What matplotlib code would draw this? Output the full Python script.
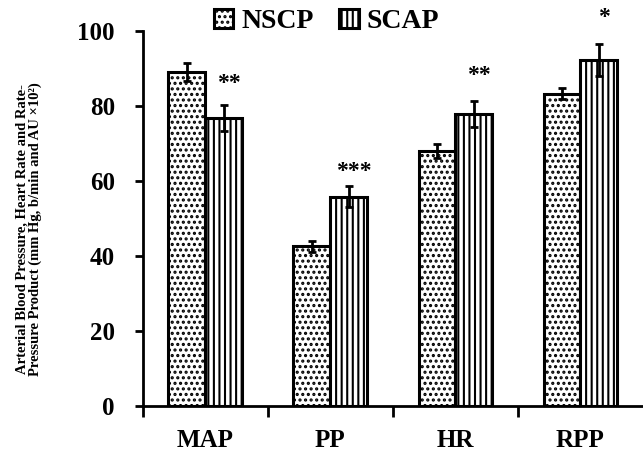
import matplotlib
matplotlib.use("Agg")
import matplotlib.pyplot as plt
import numpy as np

# data
categories = ['MAP', 'PP', 'HR', 'RPP']
nscp_mean = [89.0, 42.5, 68.0, 83.2]
nscp_err = [2.4, 1.5, 1.8, 1.5]
scap_mean = [76.8, 55.8, 77.8, 92.2]
scap_err = [3.5, 2.9, 3.5, 4.3]
stars = ['**', '***', '**', '*']
star_y = [86.0, 62.5, 88.0, 103.5]

plt.rcParams['font.family'] = ['Liberation Serif', 'DejaVu Serif']
plt.rcParams['font.weight'] = 'bold'
plt.rcParams['hatch.linewidth'] = 1.5

fig = plt.figure(figsize=(6.43, 4.53), dpi=100)
ax = fig.add_axes([0.222, 0.104, 0.778, 0.828])

x = np.arange(len(categories))
w = 0.295
ax.bar(x - w / 2, nscp_mean, w, yerr=nscp_err, color='white', edgecolor='black',
       linewidth=2.2, hatch='...', label='NSCP',
       error_kw=dict(ecolor='black', elinewidth=2, capsize=3, capthick=2))
ax.bar(x + w / 2, scap_mean, w, yerr=scap_err, color='white', edgecolor='black',
       linewidth=2.2, hatch='|||', label='SCAP',
       error_kw=dict(ecolor='black', elinewidth=2, capsize=3, capthick=2))

for i, s in enumerate(stars):
    ax.text(x[i] + w / 2 + 0.04, star_y[i], s, ha='center', va='center',
            fontsize=17, fontweight='bold', clip_on=False)

ax.set_xlim(-0.5, 3.5)
ax.set_ylim(0, 100)
ax.set_yticks(np.arange(0, 101, 20))

# category boundaries as major ticks, names on minor ticks
ax.set_xticks([-0.5, 0.5, 1.5, 2.5])
ax.set_xticklabels([])
ax.set_xticks(x, minor=True)
ax.set_xticklabels(categories, minor=True)
ax.tick_params(axis='x', which='major', direction='out', length=8, width=2)
ax.tick_params(axis='x', which='minor', length=0, pad=17, labelsize=18)
ax.tick_params(axis='y', direction='out', length=6, width=2, pad=14, labelsize=18)

for side in ['top', 'right']:
    ax.spines[side].set_visible(False)
for side in ['left', 'bottom']:
    ax.spines[side].set_linewidth(2)

fig.text(0.045, 0.494,
         'Arterial Blood Pressure, Heart Rate and Rate-\n'
         'Pressure Product (mm Hg, b/min and AU \u00d710\u00b2)',
         rotation=90, ha='center', va='center', fontsize=10.5,
         fontweight='bold', linespacing=1.0)

fig.legend(loc='center', bbox_to_anchor=(0.508, 0.952), ncol=2, frameon=False,
           fontsize=20, handlelength=0.7, handleheight=0.7, handletextpad=0.3,
           columnspacing=0.9)

fig.savefig('out.png', dpi=100)
